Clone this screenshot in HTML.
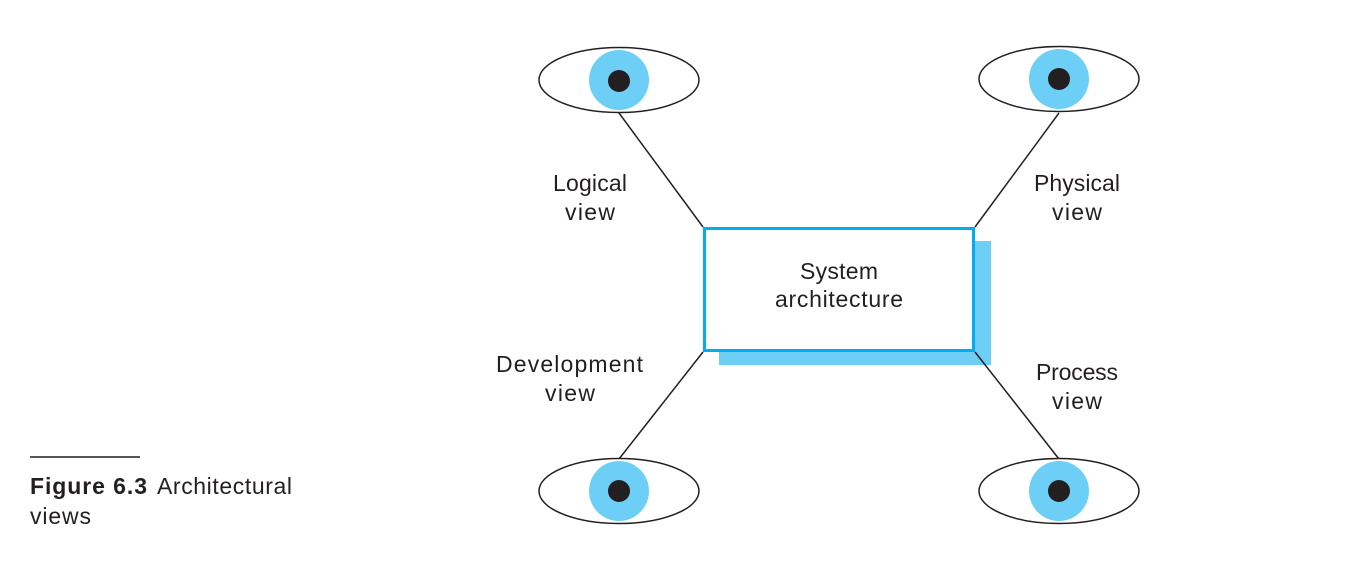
<!DOCTYPE html>
<html><head><style>
body{margin:0;width:1351px;height:568px;background:#fff;overflow:hidden}
text{font-family:"Liberation Sans",sans-serif;fill:#231f20}
</style></head><body>
<svg width="1351" height="568" xmlns="http://www.w3.org/2000/svg">
<rect x="719" y="241" width="272" height="124" fill="#6dcff6"/>
<g stroke="#231f20" stroke-width="1.5">
<line x1="619" y1="113" x2="703" y2="227"/>
<line x1="1059" y1="113" x2="975" y2="227"/>
<line x1="703" y1="352" x2="619" y2="459"/>
<line x1="975" y1="352" x2="1059" y2="459"/>
</g>
<rect x="704.5" y="228.5" width="269" height="122" fill="#fff" stroke="#00aeef" stroke-width="3"/>
<g>
<ellipse cx="619" cy="80" rx="80" ry="32.5" fill="#fff" stroke="#231f20" stroke-width="1.5"/>
<circle cx="619" cy="80" r="30" fill="#6dcff6"/><circle cx="619" cy="81" r="11" fill="#231f20"/>
<ellipse cx="1059" cy="79" rx="80" ry="32.5" fill="#fff" stroke="#231f20" stroke-width="1.5"/>
<circle cx="1059" cy="79" r="30" fill="#6dcff6"/><circle cx="1059" cy="79" r="11" fill="#231f20"/>
<ellipse cx="619" cy="491" rx="80" ry="32.5" fill="#fff" stroke="#231f20" stroke-width="1.5"/>
<circle cx="619" cy="491" r="30" fill="#6dcff6"/><circle cx="619" cy="491" r="11" fill="#231f20"/>
<ellipse cx="1059" cy="491" rx="80" ry="32.5" fill="#fff" stroke="#231f20" stroke-width="1.5"/>
<circle cx="1059" cy="491" r="30" fill="#6dcff6"/><circle cx="1059" cy="491" r="11" fill="#231f20"/>
</g>
<g font-size="23">
<text x="553" y="191" textLength="74">Logical</text><text x="565" y="220" textLength="50">view</text>
<text x="1034" y="191" textLength="86">Physical</text><text x="1052" y="220" textLength="50">view</text>
<text x="496" y="372" textLength="147">Development</text><text x="545" y="401" textLength="50">view</text>
<text x="1036" y="380" textLength="82">Process</text><text x="1052" y="409" textLength="50">view</text>
<text x="800" y="279" textLength="78">System</text><text x="775" y="307" textLength="128">architecture</text>
</g>
<line x1="30" y1="457" x2="140" y2="457" stroke="#231f20" stroke-width="1.5"/>
<text x="30" y="494" font-size="23" font-weight="bold" textLength="117">Figure 6.3</text>
<text x="157" y="494" font-size="23" textLength="135">Architectural</text>
<text x="30" y="524" font-size="23" textLength="61">views</text>
</svg>
</body></html>
